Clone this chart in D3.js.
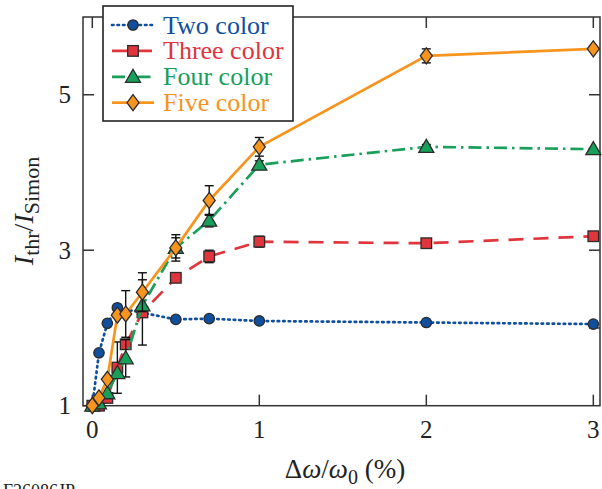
<!DOCTYPE html>
<html>
<head>
<meta charset="utf-8">
<script src="https://d3js.org/d3.v7.min.js"></script>
<style>
  body { margin: 0; background: #fff; }
  text { font-family: "Liberation Serif", "DejaVu Serif", serif; }
</style>
</head>
<body>
<div id="chart"></div>
<script>
// values
var xTwo = [0, 0.04, 0.09, 0.15, 0.5, 0.7, 1, 2, 3]
var yTwo = [1.0, 1.68, 2.06, 2.26, 2.11, 2.12, 2.09, 2.07, 2.05]
var eTwo = [0, 0, 0, 0, 0, 0, 0, 0, 0.02]

var xMulti = [0, 0.04, 0.09, 0.15, 0.2, 0.3, 0.5, 0.7, 1, 2, 3]
var yThree = [1.0, 1.0, 1.1, 1.49, 1.79, 2.2, 2.645, 2.92, 3.11, 3.09, 3.18]
var eThree = [0, 0, 0, 0.33, 0, 0.42, 0, 0.08, 0.07, 0, 0]
var yFour = [1.0, 1.03, 1.16, 1.42, 1.61, 2.29, 3.03, 3.38, 4.10, 4.33, 4.30]
var eFour = [0, 0, 0, 0, 0.24, 0, 0.13, 0.08, 0.05, 0.03, 0]
var yFive = [1.0, 1.1, 1.34, 2.165, 2.18, 2.46, 3.03, 3.64, 4.33, 5.50, 5.59]
var eFive = [0, 0, 0, 0, 0.3, 0.25, 0.17, 0.19, 0.12, 0.09, 0]

var xTicks = [0, 1, 2, 3]
var yTicks = [1, 3, 5]
var yTicksRight = [2, 3, 5]

var width = 602, height = 489
var plotL = 83, plotR = 600, plotT = 17, plotB = 405.7

var x = d3.scaleLinear().domain([-0.0557, 3.04]).range([plotL, plotR])
var y = d3.scaleLinear().domain([1, 6]).range([plotB, plotT])

var svg = d3.select("#chart").append("svg")
  .attr("width", width)
  .attr("height", height)

function zip(xs, ys, es) {
  return xs.map(function(v, i) { return {x: v, y: ys[i], e: es[i]} })
}

var series = [
  {name: "Two color", color: "#0f4f9e", dash: "1.5,4", cap: "round", shape: "circle", data: zip(xTwo, yTwo, eTwo)},
  {name: "Three color", color: "#e0353c", dash: "15,10", cap: "butt", shape: "square", data: zip(xMulti, yThree, eThree)},
  {name: "Four color", color: "#18a05a", dash: "13,5,2.5,5", cap: "butt", shape: "triangle", data: zip(xMulti, yFour, eFour)},
  {name: "Five color", color: "#f7941e", dash: null, cap: "butt", shape: "diamond", data: zip(xMulti, yFive, eFive)}
]

function marker(sel, shape, color) {
  if (shape == "circle") {
    sel.append("circle").attr("r", 5.2)
  } else if (shape == "square") {
    sel.append("rect").attr("x", -5.3).attr("y", -5.3).attr("width", 10.6).attr("height", 10.6)
  } else if (shape == "triangle") {
    sel.append("path").attr("d", "M0,-7.5L7.5,5.5L-7.5,5.5Z")
  } else {
    sel.append("path").attr("d", "M0,-8L6,0L0,8L-6,0Z")
  }
  sel.selectAll("*")
    .attr("fill", color)
    .attr("stroke", "#2b2b2b")
    .attr("stroke-width", 1.3)
}

// frame
var axisColor = "#333"
svg.append("rect")
  .attr("x", plotL).attr("y", plotT)
  .attr("width", plotR - plotL).attr("height", plotB - plotT)
  .attr("fill", "none").attr("stroke", axisColor).attr("stroke-width", 1.5)

var tickLen = 11
var ticks = svg.append("g").attr("stroke", axisColor).attr("stroke-width", 1.5)
xTicks.forEach(function(t) {
  ticks.append("line").attr("x1", x(t)).attr("x2", x(t)).attr("y1", plotB).attr("y2", plotB - tickLen)
  ticks.append("line").attr("x1", x(t)).attr("x2", x(t)).attr("y1", plotT).attr("y2", plotT + tickLen)
})
yTicks.forEach(function(t) {
  ticks.append("line").attr("x1", plotL).attr("x2", plotL + tickLen).attr("y1", y(t)).attr("y2", y(t))
})
yTicksRight.forEach(function(t) {
  ticks.append("line").attr("x1", plotR).attr("x2", plotR - tickLen).attr("y1", y(t)).attr("y2", y(t))
})

svg.append("g").selectAll("text")
  .data(xTicks)
  .enter().append("text")
  .attr("x", function(d) { return x(d) })
  .attr("y", 438)
  .attr("text-anchor", "middle")
  .attr("font-size", 25)
  .attr("fill", "#222")
  .text(function(d) { return d })

svg.append("g").selectAll("text")
  .data(yTicks)
  .enter().append("text")
  .attr("x", 71)
  .attr("y", function(d) { return y(d) + 8.5 })
  .attr("text-anchor", "end")
  .attr("font-size", 25)
  .attr("fill", "#222")
  .text(function(d) { return d })

// series: lines, error bars, markers
var line = d3.line()
  .x(function(d) { return x(d.x) })
  .y(function(d) { return y(d.y) })

series.forEach(function(s) {
  var g = svg.append("g")
  g.append("path")
    .datum(s.data)
    .attr("d", line)
    .attr("fill", "none")
    .attr("stroke", s.color)
    .attr("stroke-width", 2.7)
    .attr("stroke-linecap", s.cap)
    .attr("stroke-dasharray", s.dash)

  var eb = g.append("g").attr("stroke", "#111").attr("stroke-width", 1.4)
  s.data.filter(function(d) { return d.e > 0 }).forEach(function(d) {
    var cx = x(d.x), y0 = y(d.y - d.e), y1 = y(d.y + d.e)
    eb.append("line").attr("x1", cx).attr("x2", cx).attr("y1", y0).attr("y2", y1)
    eb.append("line").attr("x1", cx - 4.5).attr("x2", cx + 4.5).attr("y1", y0).attr("y2", y0)
    eb.append("line").attr("x1", cx - 4.5).attr("x2", cx + 4.5).attr("y1", y1).attr("y2", y1)
  })

  g.selectAll(".pt")
    .data(s.data)
    .enter().append("g")
    .attr("class", "pt")
    .attr("transform", function(d) { return "translate(" + x(d.x) + "," + y(d.y) + ")" })
    .each(function() { marker(d3.select(this), s.shape, s.color) })
})

// legend
var legend = svg.append("g")
legend.append("rect")
  .attr("x", 103).attr("y", 6)
  .attr("width", 190).attr("height", 115)
  .attr("fill", "#fff").attr("stroke", "#222").attr("stroke-width", 1.6)

series.forEach(function(s, i) {
  var ly = 25 + i * 25.9
  legend.append("line")
    .attr("x1", 112).attr("x2", 154)
    .attr("y1", ly).attr("y2", ly)
    .attr("stroke", s.color)
    .attr("stroke-width", 2.7)
    .attr("stroke-linecap", s.cap)
    .attr("stroke-dasharray", s.dash)
  var m = legend.append("g").attr("transform", "translate(133," + ly + ")")
  marker(m, s.shape, s.color)
  legend.append("text")
    .attr("x", 163).attr("y", ly + 8.5)
    .attr("font-size", 26)
    .attr("fill", s.color)
    .text(s.name)
})

// axis titles
var xl = svg.append("text")
  .attr("x", 345).attr("y", 478)
  .attr("text-anchor", "middle")
  .attr("font-size", 27)
  .attr("fill", "#222")
xl.append("tspan").text("Δ")
xl.append("tspan").attr("font-style", "italic").text("ω")
xl.append("tspan").text("/")
xl.append("tspan").attr("font-style", "italic").text("ω")
xl.append("tspan").attr("font-size", 20).attr("dy", 6).text("0")
xl.append("tspan").attr("dy", -6).text(" (%)")

var yl = svg.append("text")
  .attr("transform", "translate(33,211) rotate(-90)")
  .attr("text-anchor", "middle")
  .attr("font-size", 28)
  .attr("fill", "#222")
yl.append("tspan").attr("font-style", "italic").text("I")
yl.append("tspan").attr("font-size", 22).attr("dy", 6).text("thr")
yl.append("tspan").attr("dy", -6).text("/")
yl.append("tspan").attr("font-style", "italic").text("I")
yl.append("tspan").attr("font-size", 22).attr("dy", 6).text("Simon")

svg.append("text")
  .attr("x", 3).attr("y", 497)
  .attr("font-size", 18)
  .attr("fill", "#222")
  .text("F26086JP")
</script>
</body>
</html>
